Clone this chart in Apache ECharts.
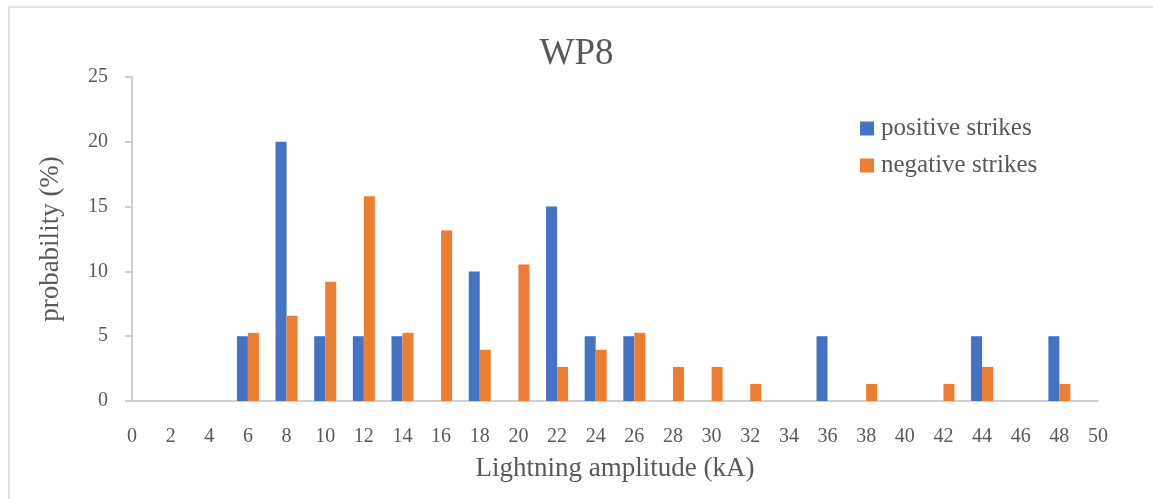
<!DOCTYPE html>
<html>
<head>
<meta charset="utf-8">
<title>WP8</title>
<script src="https://cdn.jsdelivr.net/npm/echarts@6/dist/echarts.min.js"></script>
<style>
  html, body { margin: 0; padding: 0; background: #ffffff; }
  #chart { width: 1153px; height: 499px; }
</style>
</head>
<body>
<div id="chart"></div>
<script>
// Lightning amplitude classes (kA)
const amplitudes = ['0','2','4','6','8','10','12','14','16','18','20','22','24','26','28','30','32','34','36','38','40','42','44','46','48','50'];

// Probability (%) per amplitude class
const positiveStrikes = [0,0,0,5,20,5,5,5,0,10,0,15,5,5,0,0,0,0,5,0,0,0,5,0,5,0];
const negativeStrikes = [0,0,0,5.26,6.58,9.21,15.79,5.26,13.16,3.95,10.53,2.63,3.95,5.26,2.63,2.63,1.32,0,0,1.32,0,1.32,2.63,0,1.32,0];

const yTicks = { min: 0, max: 25, interval: 5 };

const FONT = 'Liberation Serif';
const TEXT = '#595959';
const AXIS = '#cfcfcf';

const chart = echarts.init(document.getElementById('chart'), null, { renderer: 'canvas' });

chart.setOption({
  backgroundColor: '#ffffff',
  animation: false,
  graphic: [{
    type: 'rect',
    silent: true,
    shape: { x: 9, y: 7, width: 1300, height: 700 },
    style: { fill: 'none', stroke: '#d9d9d9', lineWidth: 1.5 }
  }],
  title: {
    text: 'WP8',
    left: 'center',
    top: 31,
    textStyle: { fontFamily: FONT, fontSize: 37, fontWeight: 'normal', color: TEXT }
  },
  legend: {
    orient: 'vertical',
    left: 860,
    top: 116,
    padding: 0,
    itemWidth: 14,
    itemHeight: 14,
    itemGap: 12,
    icon: 'rect',
    textStyle: { fontFamily: FONT, fontSize: 25, color: TEXT, padding: [0, 0, 0, 2] },
    data: ['positive strikes', 'negative strikes']
  },
  grid: { left: 132, right: 55, top: 77, bottom: 98, containLabel: false },
  xAxis: {
    type: 'category',
    data: amplitudes,
    boundaryGap: false,
    name: 'Lightning amplitude (kA)',
    nameLocation: 'middle',
    nameGap: 54,
    nameTextStyle: { fontFamily: FONT, fontSize: 27, color: TEXT },
    axisLine: { lineStyle: { color: AXIS, width: 2 } },
    axisTick: { show: false },
    axisLabel: { fontFamily: FONT, fontSize: 20, color: TEXT, margin: 26, interval: 0 },
    splitLine: { show: false }
  },
  yAxis: {
    type: 'value',
    min: yTicks.min,
    max: yTicks.max,
    interval: yTicks.interval,
    name: 'probability (%)',
    nameLocation: 'middle',
    nameRotate: 90,
    nameGap: 68,
    nameTextStyle: { fontFamily: FONT, fontSize: 27, color: TEXT },
    axisLine: { show: true, lineStyle: { color: AXIS, width: 2 } },
    axisTick: { show: true, inside: false, length: 7, lineStyle: { color: AXIS, width: 2 } },
    axisLabel: { fontFamily: FONT, fontSize: 20, color: TEXT, margin: 24 },
    splitLine: { show: false }
  },
  series: [
    {
      name: 'positive strikes',
      type: 'bar',
      data: positiveStrikes,
      barWidth: 11,
      barGap: '0%',
      itemStyle: { color: '#4472C4' }
    },
    {
      name: 'negative strikes',
      type: 'bar',
      data: negativeStrikes,
      barWidth: 11,
      barGap: '0%',
      itemStyle: { color: '#ED7D31' }
    }
  ]
});
</script>
</body>
</html>
